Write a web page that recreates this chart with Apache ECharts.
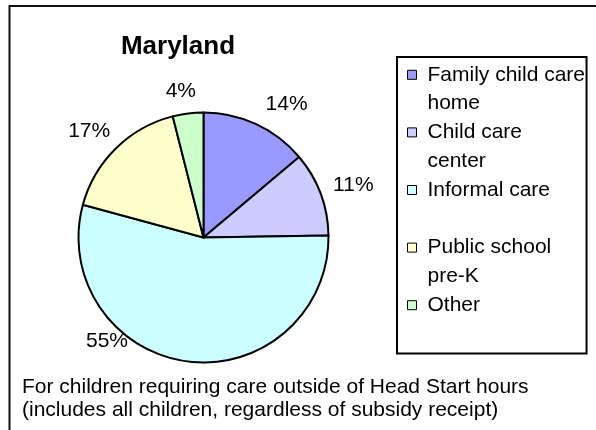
<!DOCTYPE html>
<html>
<head>
<meta charset="utf-8">
<script src="https://cdn.jsdelivr.net/npm/echarts@6/dist/echarts.min.js"></script>
<style>
  html, body { margin: 0; padding: 0; background: #fff; }
  #chart { width: 596px; height: 430px; }
</style>
</head>
<body>
<div id="chart"></div>
<script>
// chart data
const categories = ['Family child care home', 'Child care center', 'Informal care', 'Public school pre-K', 'Other'];
const legendLabels = ['Family child care\nhome', 'Child care\ncenter', 'Informal care\n ', 'Public school\npre-K', 'Other\n '];
const shares = [14, 11, 55, 17, 4];
const titleText = 'Maryland';
const noteText = 'For children requiring care outside of Head Start hours\n(includes all children, regardless of subsidy receipt)';

// styling
const colors = ['#9999ff', '#ccccff', '#ccffff', '#ffffcc', '#ccffcc'];
// nudges so the percent labels sit where Excel put them
const labelNudge = [[1, -13], [0, -6], [-54, -28], [5, -12], [14, -14]];
const font = 'Liberation Sans, Arial, sans-serif';
const lh = 28.6;

const chart = echarts.init(document.getElementById('chart'));

const option = {
  animation: false,
  backgroundColor: '#fff',
  textStyle: { fontFamily: font, color: '#000' },
  title: [
    {
      text: titleText,
      left: 178, top: 34, padding: 0,
      textAlign: 'center',
      textStyle: { fontFamily: font, fontSize: 26, fontWeight: 'bold', color: '#000', lineHeight: 26 }
    },
    {
      text: noteText,
      left: 22, top: 375.5, padding: 0,
      textStyle: { fontFamily: font, fontSize: 21, fontWeight: 'normal', color: '#000', lineHeight: 23.4 }
    }
  ],
  legend: {
    orient: 'vertical',
    left: 397, top: 57,
    padding: [3, 1.5, 5, 10],
    borderColor: '#000', borderWidth: 2,
    itemGap: -0.6,
    itemWidth: 9, itemHeight: 2 * lh,
    // square sits on the first text line
    icon: 'path://M0,0M9,57.2M0,9.8h9v9h-9z',
    itemStyle: { borderColor: '#000', borderWidth: 1 },
    formatter: function (name) {
      return legendLabels[categories.indexOf(name)];
    },
    textStyle: { fontFamily: font, fontSize: 21, color: '#000', lineHeight: lh, padding: [0, 0, 0, 6] },
    selectedMode: false
  },
  series: [
    {
      type: 'pie',
      center: [203.5, 237.5],
      radius: 125,
      startAngle: 90,
      clockwise: true,
      avoidLabelOverlap: false,
      itemStyle: { borderColor: '#000', borderWidth: 2 },
      label: {
        show: true,
        position: 'outside',
        formatter: '{c}%',
        fontFamily: font, fontSize: 21, color: '#000'
      },
      labelLine: { show: false, length: 8, length2: 0 },
      emphasis: { disabled: true },
      data: categories.map((name, i) => ({
        name: name,
        value: shares[i],
        itemStyle: { color: colors[i] },
        label: { offset: labelNudge[i] }
      }))
    }
  ],
  graphic: [
    {
      type: 'polyline',
      shape: { points: [[9.5, 430], [9.5, 6], [596, 6]] },
      style: { stroke: '#111', lineWidth: 2, fill: null }
    }
  ]
};

chart.setOption(option);
</script>
</body>
</html>
